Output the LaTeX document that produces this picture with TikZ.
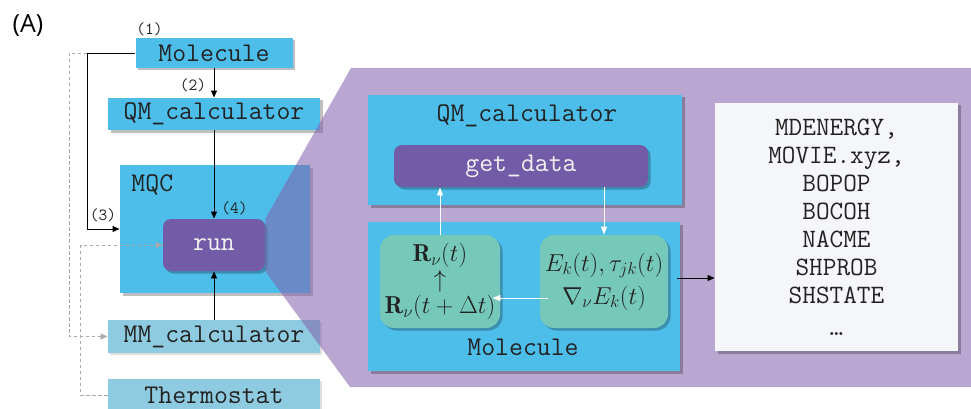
\RequirePackage{fix-cm}
\documentclass[tikz,border=0pt]{standalone}
\usepackage{fontspec}
\newfontfamily\tagfont{Open Sans}
\usetikzlibrary{arrows.meta,calc,shadows}

\definecolor{boxblue}{RGB}{77,190,234}
\definecolor{fadeblue}{RGB}{143,203,224}
\definecolor{runpurple}{RGB}{114,92,168}
\definecolor{zoompurple}{RGB}{130,98,173}
\definecolor{mintgreen}{RGB}{118,200,184}
\definecolor{outwhite}{RGB}{245,246,249}
\definecolor{textdark}{RGB}{34,34,34}
\definecolor{dashgray}{RGB}{170,170,170}

\tikzset{every picture/.style={line width=0.9pt},
  softshadow/.style={drop shadow={shadow xshift=2.5pt,shadow yshift=-2.5pt,opacity=0.25,fill=black}},
  classbox/.style={fill=boxblue, inner sep=0pt, text=textdark, softshadow,
    font=\ttfamily\fontsize{27}{32}\selectfont},
  fadebox/.style={fill=fadeblue, inner sep=0pt, text=textdark,
    drop shadow={shadow xshift=2pt,shadow yshift=-2pt,opacity=0.12,fill=black},
    font=\ttfamily\fontsize{27}{32}\selectfont},
  methodbox/.style={fill=runpurple, rounded corners=8pt, inner sep=0pt, text=white!90!gray, softshadow,
    font=\ttfamily\fontsize{27}{32}\selectfont},
  mathbox/.style={fill=mintgreen, rounded corners=14pt, inner sep=0pt, align=center, text=textdark, softshadow},
  titletext/.style={inner sep=0pt, text=textdark, font=\ttfamily\fontsize{27}{32}\selectfont},
  steplabel/.style={inner sep=0pt, text=textdark, font=\ttfamily\fontsize{17}{20}\selectfont},
  arr/.style={black, -{Triangle[length=7pt,width=6pt]}},
  warr/.style={white, -{Triangle[length=8pt,width=6pt]}},
  dashgrayline/.style={dashgray, dash pattern=on 3.5pt off 2.5pt, -{Triangle[length=7pt,width=6pt]}},
}

\begin{document}
\begin{tikzpicture}[x=1pt,y=1pt,yscale=-1,xscale=1]
\useasboundingbox (0,0) rectangle (971,409);

% Label
\node[inner sep=0pt, font=\tagfont\fontsize{25}{30}\selectfont] (tag) at (28,26) {(A)};

% Left column
\node[classbox, minimum width=157, minimum height=30] (mol) at (214,53) {Molecule};
\node[classbox, minimum width=212, minimum height=32] (qm) at (214,114) {QM\_calculator};
\node[classbox, minimum width=190, minimum height=128] (mqc) at (215,229) {};
\node[titletext, anchor=west] (mqctitle) at (131,185) {MQC};
\node[methodbox, minimum width=102, minimum height=52] (run) at (214,245) {run};
\node[fadebox, minimum width=212, minimum height=33] (mm) at (214,336.5) {MM\_calculator};
\node[fadebox, minimum width=212, minimum height=33] (thermo) at (214,395) {Thermostat};

% Step labels
\node[steplabel] (l1) at (149.5,29) {(1)};
\node[steplabel] (l2) at (193,85) {(2)};
\node[steplabel] (l3) at (103,215) {(3)};
\node[steplabel] (l4) at (234.5,208) {(4)};

% Left connectors
\draw[arr] (mol.south) -- (qm.north);
\draw[arr] (qm.south) -- (run.north);
\draw[arr] (mm.north) -- (run.south);
\draw[dashgrayline] (mol.west) -- ++(-66,0) |- (mm.west);
\draw[arr] (mol.west) -- ++(-48,0) |- (mqc.west);
\draw[dashgrayline] (thermo.west) -- ++(-27,0) |- (run.west);

% Zoom region
\fill[zoompurple, fill opacity=0.56] (run.north east) -- (351,68) -- (971,68) -- (971,387) -- (350,387) -- (run.south east) -- cycle;

% Right detail
\node[classbox, minimum width=314, minimum height=110] (qmbig) at (525,150) {};
\node[titletext] (qmtitle) at (527,116) {QM\_calculator};
\node[methodbox, minimum width=254, minimum height=42] (getdata) at (521,166) {get\_data};
\node[classbox, minimum width=312, minimum height=149] (molbig) at (524,296.5) {};
\node[titletext] (moltitle) at (523,347) {Molecule};
\node[mathbox, minimum width=120, minimum height=93, font=\fontsize{24.5}{26}\selectfont] (rbox) at (440,281.5)
  {$\mathbf{R}_\nu(t)$\\$\uparrow$\\$\mathbf{R}_\nu(t+\Delta t)$};
\node[mathbox, minimum width=128, minimum height=93, font=\fontsize{24.5}{26}\selectfont] (ebox) at (604,281.5)
  {$E_k(t),\tau_{jk}(t)$\\[7pt]$\nabla_\nu E_k(t)$};
\node[fill=outwhite, inner sep=0pt, minimum width=243, minimum height=248, align=center, text=textdark, softshadow,
  font=\ttfamily\fontsize{26.5}{28}\selectfont] (out) at (836.5,227)
  {MDENERGY,\\MOVIE.xyz,\\BOPOP\\BOCOH\\NACME\\SHPROB\\SHSTATE\\[4pt]…};

% Right connectors
\draw[warr] (rbox.north) -- (rbox.north |- getdata.south);
\draw[warr] (ebox.north |- getdata.south) -- (ebox.north);
\draw[warr] ($(ebox.west)+(8,16.5)$) -- ($(rbox.east)+(-8,16.5)$);
\draw[arr] ($(molbig.east)+(-3,-18.5)$) coordinate (molout) -- (molout -| out.west);

\end{tikzpicture}
\end{document}
